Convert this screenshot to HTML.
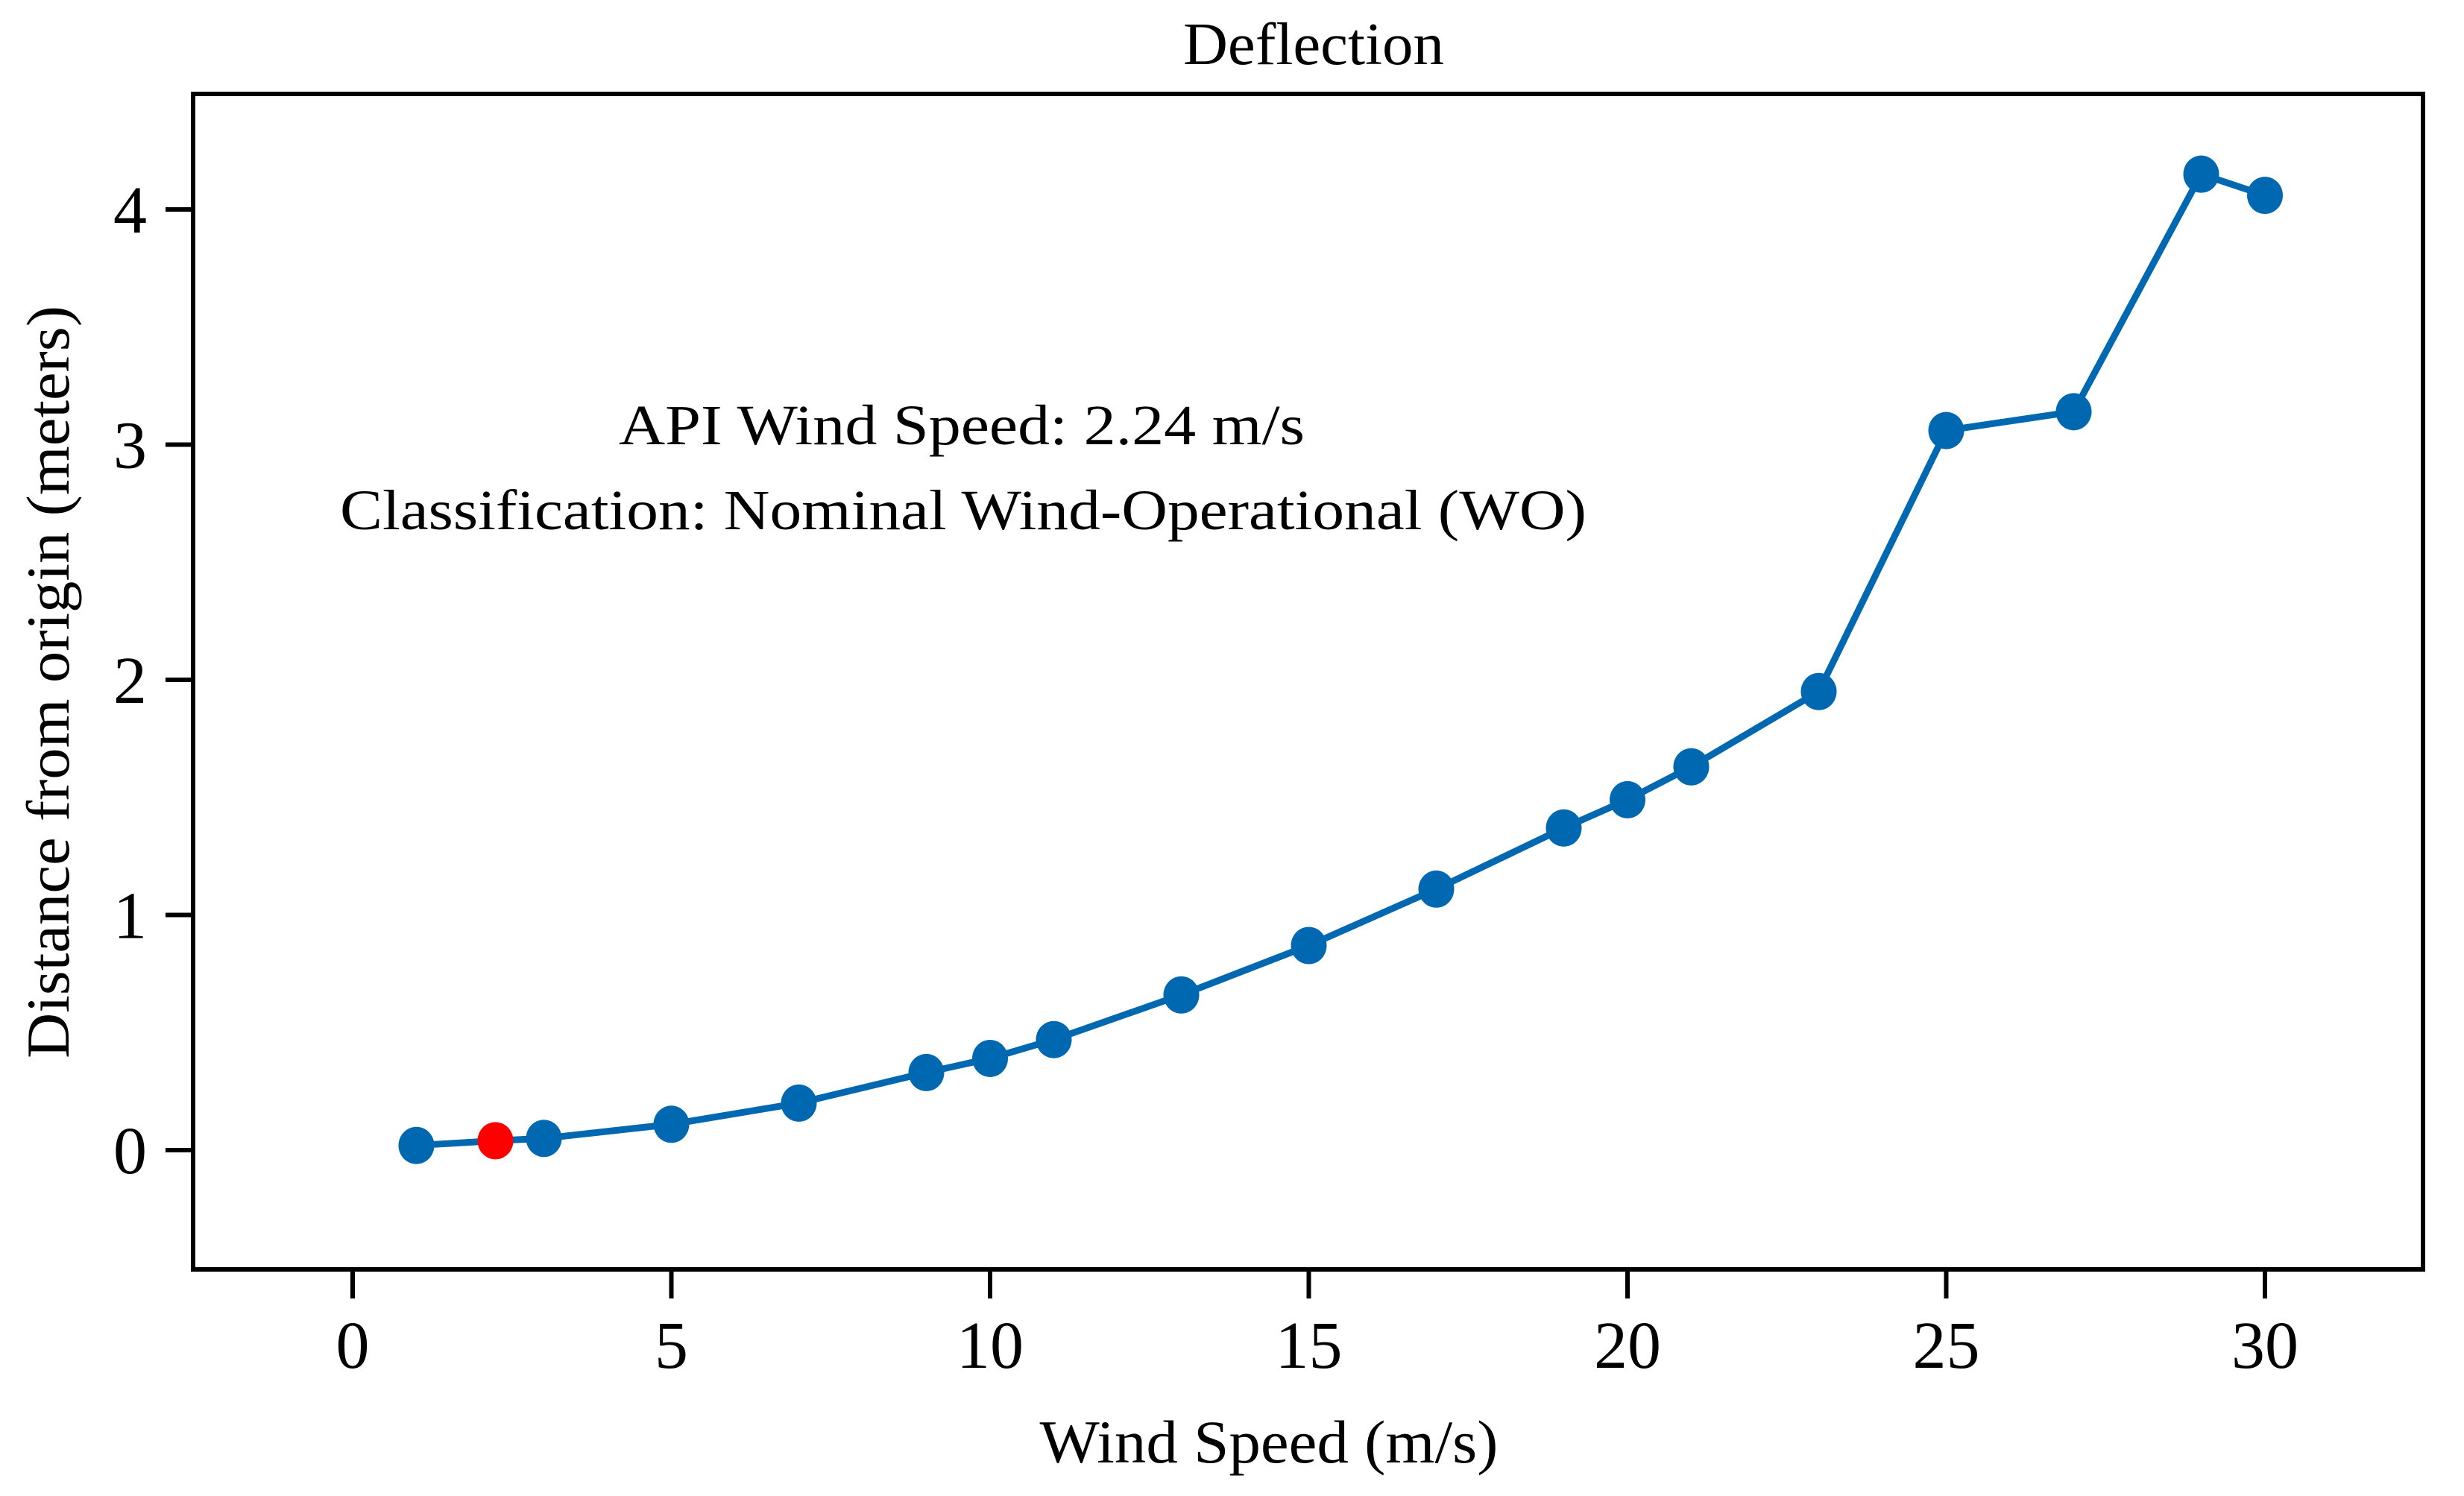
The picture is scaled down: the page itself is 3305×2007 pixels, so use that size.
<!DOCTYPE html>
<html><head><meta charset="utf-8"><style>
html,body{margin:0;padding:0;background:#fff;}
svg{display:block;font-family:"Liberation Serif",serif;}
</style></head><body>
<svg id="chart" width="3305" height="2007" viewBox="0 0 3305 2007" xmlns="http://www.w3.org/2000/svg">
<rect x="0" y="0" width="3305" height="2007" fill="#fff"/>
<text x="1762" y="86" font-size="80" text-anchor="middle" textLength="350" lengthAdjust="spacingAndGlyphs">Deflection</text>
<rect x="259" y="126" width="2991" height="1577" fill="none" stroke="#000" stroke-width="6"/>
<g id="xticks"></g><g id="yticks"></g>
<g id="series"></g>
<text x="1290" y="596" font-size="76" text-anchor="middle" textLength="920" lengthAdjust="spacingAndGlyphs">API  Wind Speed: 2.24 m/s</text>
<text x="1292" y="710" font-size="76" text-anchor="middle" textLength="1672" lengthAdjust="spacingAndGlyphs">Classification: Nominal Wind-Operational (WO)</text>
<text x="1702" y="1962" font-size="82" text-anchor="middle" textLength="615" lengthAdjust="spacingAndGlyphs">Wind Speed (m/s)</text>
<text transform="translate(92,915) rotate(-90)" font-size="82" text-anchor="middle" textLength="1010" lengthAdjust="spacingAndGlyphs">Distance from origin (meters)</text>
</svg>
<script>
const windSpeeds = [1, 2.24, 3, 5, 7, 9, 10, 11, 13, 15, 17, 19, 20, 21, 23, 25, 27, 29, 30];
const deflections = [0.02, 0.04, 0.05, 0.11, 0.2, 0.33, 0.39, 0.47, 0.66, 0.87, 1.11, 1.37, 1.49, 1.63, 1.95, 3.06, 3.14, 4.15, 4.06];
const highlightIndex = 1;
const xTicks = [0, 5, 10, 15, 20, 25, 30];
const yTicks = [0, 1, 2, 3, 4];

const NS = "http://www.w3.org/2000/svg";
function sx(v){ return 473 + v * 85.5; }
function sy(v){ return 1543 - v * 315.5; }
function mk(tag, attrs, parent){
  const e = document.createElementNS(NS, tag);
  for (const k in attrs) e.setAttribute(k, attrs[k]);
  parent.appendChild(e);
  return e;
}
const xg = document.getElementById('xticks');
xTicks.forEach(t => {
  const l = mk('line', {x1:sx(t), x2:sx(t), y1:1703, y2:1742, stroke:'#000', 'stroke-width':6}, xg);
  
  
  const tx = mk('text', {x:sx(t), y:1835, 'font-size':90, 'text-anchor':'middle'}, xg);
  tx.textContent = t;
  
  
});
const yg = document.getElementById('yticks');
yTicks.forEach(t => {
  const l = mk('line', {x1:222, x2:259, y1:sy(t), y2:sy(t), stroke:'#000', 'stroke-width':6}, yg);
  
  
  const tx = mk('text', {x:197, y:sy(t) + 31, 'font-size':90, 'text-anchor':'end'}, yg);
  tx.textContent = t;
  
  
});
const sg = document.getElementById('series');
const pts = windSpeeds.map((x, i) => sx(x) + ',' + sy(deflections[i])).join(' ');
const pl = mk('polyline', {points:pts, fill:'none', stroke:'#0068b0', 'stroke-width':9, 'stroke-linejoin':'round'}, sg);


windSpeeds.forEach((x, i) => {
  const c = mk('ellipse', {cx:sx(x), cy:sy(deflections[i]), rx:24, ry:25, fill: i === highlightIndex ? '#ff0000' : '#0068b0'}, sg);
  
  
});
</script>
</body></html>
